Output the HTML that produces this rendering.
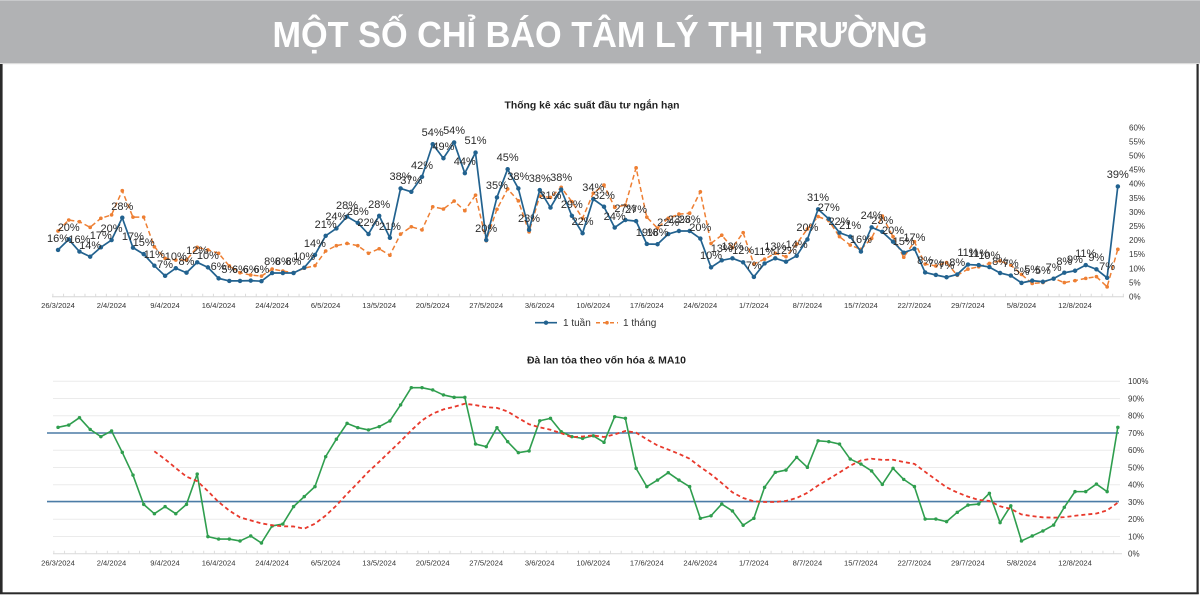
<!DOCTYPE html>
<html><head><meta charset="utf-8">
<style>
html,body{margin:0;padding:0;background:#fff;}
#wrap{position:relative;width:1200px;height:595px;overflow:hidden;background:#fff;font-family:"Liberation Sans",sans-serif;}
svg{position:absolute;left:0;top:0;}
.l{position:absolute;width:40px;text-align:center;font:11px/12px "Liberation Sans",sans-serif;color:#2b2b2b;left:calc(38px + var(--i)*10.705px);top:calc(279.6px - var(--v)*2.82px);white-space:nowrap;}
</style></head><body><div id="wrap">
<svg width="1200" height="595" viewBox="0 0 1200 595" xmlns="http://www.w3.org/2000/svg" font-family="Liberation Sans, sans-serif">
<!-- header -->
<rect x="0" y="0" width="1200" height="63" fill="#b1b2b4"/>
<rect x="0" y="0" width="1200" height="1" fill="#c8c9cb"/>
<rect x="0" y="63" width="1200" height="1.2" fill="#dcdcdc"/>
<text x="600" y="47" text-anchor="middle" font-size="36" font-weight="bold" fill="#ffffff" textLength="655" lengthAdjust="spacingAndGlyphs">MỘT SỐ CHỈ BÁO TÂM LÝ THỊ TRƯỜNG</text>
<!-- frame (left, right, bottom only) -->
<rect x="0" y="64" width="2.6" height="530" fill="#2a2a2a"/>
<rect x="1196.5" y="64" width="2.2" height="530" fill="#2a2a2a"/>
<rect x="0" y="592.3" width="1198.7" height="2" fill="#2a2a2a"/>

<!-- ===== TOP CHART ===== -->
<text x="592" y="108.5" text-anchor="middle" font-size="10.5" font-weight="bold" fill="#222" textLength="175" lengthAdjust="spacingAndGlyphs">Thống kê xác suất đầu tư ngắn hạn</text>
<line x1="52" y1="296.7" x2="1124" y2="296.7" stroke="#d6d6d6" stroke-width="1"/>
<line x1="52" y1="295.2" x2="1124" y2="295.2" stroke="#dcdcdc" stroke-width="3" stroke-dasharray="1 9.705" stroke-dashoffset="-0.35"/>
<g font-size="8" fill="#333">
<text x="1129" y="130.3">60%</text><text x="1129" y="144.4">55%</text><text x="1129" y="158.5">50%</text><text x="1129" y="172.6">45%</text><text x="1129" y="186.7">40%</text><text x="1129" y="200.8">35%</text><text x="1129" y="214.9">30%</text><text x="1129" y="229">25%</text><text x="1129" y="243.1">20%</text><text x="1129" y="257.2">15%</text><text x="1129" y="271.3">10%</text><text x="1129" y="285.4">5%</text><text x="1129" y="299.5">0%</text>
</g>
<g font-size="7.6" fill="#333" text-anchor="middle">
<text x="58" y="307.8">26/3/2024</text><text x="111.5" y="307.8">2/4/2024</text><text x="165" y="307.8">9/4/2024</text><text x="218.6" y="307.8">16/4/2024</text><text x="272.1" y="307.8">24/4/2024</text><text x="325.6" y="307.8">6/5/2024</text><text x="379.2" y="307.8">13/5/2024</text><text x="432.7" y="307.8">20/5/2024</text><text x="486.2" y="307.8">27/5/2024</text><text x="539.7" y="307.8">3/6/2024</text><text x="593.3" y="307.8">10/6/2024</text><text x="646.8" y="307.8">17/6/2024</text><text x="700.3" y="307.8">24/6/2024</text><text x="753.8" y="307.8">1/7/2024</text><text x="807.4" y="307.8">8/7/2024</text><text x="860.9" y="307.8">15/7/2024</text><text x="914.4" y="307.8">22/7/2024</text><text x="967.9" y="307.8">29/7/2024</text><text x="1021.5" y="307.8">5/8/2024</text><text x="1075" y="307.8">12/8/2024</text>
</g>
<g transform="translate(58,296.7) scale(10.705,-2.82)" fill="none">
<polyline vector-effect="non-scaling-stroke" stroke="#ee7f33" stroke-width="1.5" stroke-dasharray="5 3" points="0,23.3 1,27.2 2,26.6 3,24.6 4,27.8 5,29 6,37.6 7,28.2 8,28.2 9,17.7 10,13.6 11,13 12,13 13,17.5 14,16.6 15,15.4 16,10.9 17,8.5 18,7.7 19,7.3 20,9.8 21,9.1 22,8.5 23,10.1 24,11 25,16.2 26,18.1 27,18.9 28,18.1 29,15.4 30,17 31,14.7 32,22.2 33,24.8 34,23.7 35,31.9 36,31.1 37,33.9 38,30.5 39,36 40,19.9 41,31 42,38.2 43,34 44,23 45,35.7 46,35.2 47,38.8 48,33.7 49,27.8 50,36.7 51,39.6 52,31.7 53,32.5 54,45.7 55,28.2 56,24.3 57,27.8 58,29.3 59,29.6 60,37.2 61,18.9 62,21.8 63,17.4 64,22.7 65,11.6 66,13.3 67,15.4 68,14.2 69,18.7 70,24 71,28.4 72,27 73,21.3 74,18.3 75,16.8 76,20.7 77,28.6 78,21.3 79,14 80,19.5 81,11.6 82,10.9 83,12.1 84,7.6 85,9.8 86,10.6 87,11.8 88,12.7 89,11.2 90,7.9 91,4.7 92,5 93,6.5 94,5 95,5.7 96,6.5 97,7.1 98,3.5 99,16.8"/>
<path vector-effect="non-scaling-stroke" stroke="#ee7f33" stroke-width="3.6" stroke-linecap="round" d="M0 23.3h0.01M1 27.2h0.01M2 26.6h0.01M3 24.6h0.01M4 27.8h0.01M5 29h0.01M6 37.6h0.01M7 28.2h0.01M8 28.2h0.01M9 17.7h0.01M10 13.6h0.01M11 13h0.01M12 13h0.01M13 17.5h0.01M14 16.6h0.01M15 15.4h0.01M16 10.9h0.01M17 8.5h0.01M18 7.7h0.01M19 7.3h0.01M20 9.8h0.01M21 9.1h0.01M22 8.5h0.01M23 10.1h0.01M24 11h0.01M25 16.2h0.01M26 18.1h0.01M27 18.9h0.01M28 18.1h0.01M29 15.4h0.01M30 17h0.01M31 14.7h0.01M32 22.2h0.01M33 24.8h0.01M34 23.7h0.01M35 31.9h0.01M36 31.1h0.01M37 33.9h0.01M38 30.5h0.01M39 36h0.01M40 19.9h0.01M41 31h0.01M42 38.2h0.01M43 34h0.01M44 23h0.01M45 35.7h0.01M46 35.2h0.01M47 38.8h0.01M48 33.7h0.01M49 27.8h0.01M50 36.7h0.01M51 39.6h0.01M52 31.7h0.01M53 32.5h0.01M54 45.7h0.01M55 28.2h0.01M56 24.3h0.01M57 27.8h0.01M58 29.3h0.01M59 29.6h0.01M60 37.2h0.01M61 18.9h0.01M62 21.8h0.01M63 17.4h0.01M64 22.7h0.01M65 11.6h0.01M66 13.3h0.01M67 15.4h0.01M68 14.2h0.01M69 18.7h0.01M70 24h0.01M71 28.4h0.01M72 27h0.01M73 21.3h0.01M74 18.3h0.01M75 16.8h0.01M76 20.7h0.01M77 28.6h0.01M78 21.3h0.01M79 14h0.01M80 19.5h0.01M81 11.6h0.01M82 10.9h0.01M83 12.1h0.01M84 7.6h0.01M85 9.8h0.01M86 10.6h0.01M87 11.8h0.01M88 12.7h0.01M89 11.2h0.01M90 7.9h0.01M91 4.7h0.01M92 5h0.01M93 6.5h0.01M94 5h0.01M95 5.7h0.01M96 6.5h0.01M97 7.1h0.01M98 3.5h0.01M99 16.8h0.01"/>
<polyline vector-effect="non-scaling-stroke" stroke="#22628f" stroke-width="1.7" stroke-linejoin="round" points="0,16.6 1,20.3 2,16 3,14.2 4,17.5 5,20.1 6,28 7,17.4 8,15.1 9,11 10,7.4 11,10.1 12,8.5 13,12.2 14,10.4 15,6.5 16,5.6 17,5.6 18,5.7 19,5.5 20,8.4 21,8.4 22,8.4 23,10.3 24,14.8 25,21.6 26,24.2 27,28.4 28,26.2 29,22.2 30,28.7 31,20.9 32,38.4 33,37.2 34,42.5 35,54.1 36,49.1 37,54.7 38,43.8 39,51.1 40,20.1 41,35.2 42,45.2 43,38.4 44,23.7 45,37.8 46,31.6 47,38 48,28.7 49,22.5 50,34.6 51,31.9 52,24.5 53,27.2 54,26.8 55,18.7 56,18.6 57,22.2 58,23.3 59,23.3 60,20.6 61,10.4 62,12.9 63,13.6 64,12.2 65,7 66,11.8 67,13.6 68,12.4 69,14.5 70,20.3 71,31 72,27.6 73,22.7 74,21.3 75,16 76,24.6 77,23 78,19.5 79,15.6 80,17 81,8.6 82,7.7 83,6.9 84,7.9 85,11.4 86,11.2 87,10.5 88,8.4 89,7.5 90,4.9 91,5.7 92,5.3 93,6.4 94,8.5 95,9.2 96,11.2 97,9.7 98,6.7 99,39.1"/>
<path vector-effect="non-scaling-stroke" stroke="#22628f" stroke-width="4.4" stroke-linecap="round" d="M0 16.6h0.01M1 20.3h0.01M2 16h0.01M3 14.2h0.01M4 17.5h0.01M5 20.1h0.01M6 28h0.01M7 17.4h0.01M8 15.1h0.01M9 11h0.01M10 7.4h0.01M11 10.1h0.01M12 8.5h0.01M13 12.2h0.01M14 10.4h0.01M15 6.5h0.01M16 5.6h0.01M17 5.6h0.01M18 5.7h0.01M19 5.5h0.01M20 8.4h0.01M21 8.4h0.01M22 8.4h0.01M23 10.3h0.01M24 14.8h0.01M25 21.6h0.01M26 24.2h0.01M27 28.4h0.01M28 26.2h0.01M29 22.2h0.01M30 28.7h0.01M31 20.9h0.01M32 38.4h0.01M33 37.2h0.01M34 42.5h0.01M35 54.1h0.01M36 49.1h0.01M37 54.7h0.01M38 43.8h0.01M39 51.1h0.01M40 20.1h0.01M41 35.2h0.01M42 45.2h0.01M43 38.4h0.01M44 23.7h0.01M45 37.8h0.01M46 31.6h0.01M47 38h0.01M48 28.7h0.01M49 22.5h0.01M50 34.6h0.01M51 31.9h0.01M52 24.5h0.01M53 27.2h0.01M54 26.8h0.01M55 18.7h0.01M56 18.6h0.01M57 22.2h0.01M58 23.3h0.01M59 23.3h0.01M60 20.6h0.01M61 10.4h0.01M62 12.9h0.01M63 13.6h0.01M64 12.2h0.01M65 7h0.01M66 11.8h0.01M67 13.6h0.01M68 12.4h0.01M69 14.5h0.01M70 20.3h0.01M71 31h0.01M72 27.6h0.01M73 22.7h0.01M74 21.3h0.01M75 16h0.01M76 24.6h0.01M77 23h0.01M78 19.5h0.01M79 15.6h0.01M80 17h0.01M81 8.6h0.01M82 7.7h0.01M83 6.9h0.01M84 7.9h0.01M85 11.4h0.01M86 11.2h0.01M87 10.5h0.01M88 8.4h0.01M89 7.5h0.01M90 4.9h0.01M91 5.7h0.01M92 5.3h0.01M93 6.4h0.01M94 8.5h0.01M95 9.2h0.01M96 11.2h0.01M97 9.7h0.01M98 6.7h0.01M99 39.1h0.01"/>
</g>
<!-- legend -->
<line x1="535" y1="322.7" x2="557" y2="322.7" stroke="#22628f" stroke-width="1.7"/>
<circle cx="546" cy="322.7" r="2.2" fill="#22628f"/>
<text x="563" y="326" font-size="10" fill="#333">1 tuần</text>
<line x1="596" y1="322.7" x2="618" y2="322.7" stroke="#ee7f33" stroke-width="1.5" stroke-dasharray="4 3"/>
<circle cx="607" cy="322.7" r="1.8" fill="#ee7f33"/>
<text x="623" y="326" font-size="10" fill="#333">1 tháng</text>

<!-- ===== BOTTOM CHART ===== -->
<text x="606.5" y="363.5" text-anchor="middle" font-size="10.5" font-weight="bold" fill="#222" textLength="159" lengthAdjust="spacingAndGlyphs">Đà lan tỏa theo vốn hóa &amp; MA10</text>
<g stroke="#ebebeb" stroke-width="1">
<line x1="53" y1="381.3" x2="1120" y2="381.3"/><line x1="53" y1="398.5" x2="1120" y2="398.5"/><line x1="53" y1="415.8" x2="1120" y2="415.8"/><line x1="53" y1="450.3" x2="1120" y2="450.3"/><line x1="53" y1="467.5" x2="1120" y2="467.5"/><line x1="53" y1="484.7" x2="1120" y2="484.7"/><line x1="53" y1="519.2" x2="1120" y2="519.2"/><line x1="53" y1="536.5" x2="1120" y2="536.5"/>
</g>
<line x1="53" y1="553.7" x2="1122" y2="553.7" stroke="#d9d9d9" stroke-width="1"/>
<line x1="53" y1="552.2" x2="1122" y2="552.2" stroke="#dedede" stroke-width="3" stroke-dasharray="1 9.705" stroke-dashoffset="-0.35"/>
<line x1="47" y1="433" x2="1119" y2="433" stroke="#4b7ca6" stroke-width="1.6"/>
<line x1="47" y1="501.6" x2="1119" y2="501.6" stroke="#4b7ca6" stroke-width="1.6"/>
<g font-size="8" fill="#333">
<text x="1128" y="384.1">100%</text><text x="1128" y="401.3">90%</text><text x="1128" y="418.6">80%</text><text x="1128" y="435.8">70%</text><text x="1128" y="453.1">60%</text><text x="1128" y="470.3">50%</text><text x="1128" y="487.5">40%</text><text x="1128" y="504.8">30%</text><text x="1128" y="522">20%</text><text x="1128" y="539.3">10%</text><text x="1128" y="556.5">0%</text>
</g>
<g font-size="7.6" fill="#333" text-anchor="middle">
<text x="58" y="565.5">26/3/2024</text><text x="111.5" y="565.5">2/4/2024</text><text x="165" y="565.5">9/4/2024</text><text x="218.6" y="565.5">16/4/2024</text><text x="272.1" y="565.5">24/4/2024</text><text x="325.6" y="565.5">6/5/2024</text><text x="379.2" y="565.5">13/5/2024</text><text x="432.7" y="565.5">20/5/2024</text><text x="486.2" y="565.5">27/5/2024</text><text x="539.7" y="565.5">3/6/2024</text><text x="593.3" y="565.5">10/6/2024</text><text x="646.8" y="565.5">17/6/2024</text><text x="700.3" y="565.5">24/6/2024</text><text x="753.8" y="565.5">1/7/2024</text><text x="807.4" y="565.5">8/7/2024</text><text x="860.9" y="565.5">15/7/2024</text><text x="914.4" y="565.5">22/7/2024</text><text x="967.9" y="565.5">29/7/2024</text><text x="1021.5" y="565.5">5/8/2024</text><text x="1075" y="565.5">12/8/2024</text>
</g>
<g transform="translate(58,553.7) scale(10.705,-1.724)" fill="none">
<polyline vector-effect="non-scaling-stroke" stroke="#2f9e4e" stroke-width="1.6" stroke-linejoin="round" points="0,73.3 1,74.6 2,78.9 3,72.1 4,67.9 5,71.2 6,58.8 7,45.6 8,28.6 9,23.2 10,27.3 11,23.2 12,28.6 13,46.2 14,9.9 15,8.5 16,8.5 17,7.4 18,10.3 19,6.2 20,16.1 21,17.2 22,27.3 23,33.1 24,38.9 25,56.3 26,66.4 27,75.6 28,73.1 29,71.8 30,73.7 31,77 32,86.3 33,96.3 34,96.3 35,95 36,92.1 37,90.7 38,90.7 39,63.6 40,62.1 41,73.1 42,65 43,58.6 44,59.6 45,77.1 46,78.5 47,70.8 48,67.9 49,66.9 50,68.4 51,64.6 52,79.5 53,78.5 54,49.5 55,38.9 56,42.7 57,47 58,42.7 59,38.9 60,20.5 61,22 62,28.8 63,24.8 64,16.5 65,20.5 66,38.5 67,47.2 68,48.5 69,55.9 70,50.1 71,65.5 72,65 73,63.6 74,54.9 75,52 76,48 77,40.2 78,49.5 79,43.1 80,38.9 81,20.1 82,20.1 83,18.6 84,24 85,28.2 86,28.8 87,35 88,18 89,27.8 90,7.4 91,10.3 92,13.2 93,16.6 94,26.9 95,36 96,36 97,40.4 98,36 99,73.3"/>
<path vector-effect="non-scaling-stroke" stroke="#2f9e4e" stroke-width="3.4" stroke-linecap="round" d="M0 73.3h0.01M1 74.6h0.01M2 78.9h0.01M3 72.1h0.01M4 67.9h0.01M5 71.2h0.01M6 58.8h0.01M7 45.6h0.01M8 28.6h0.01M9 23.2h0.01M10 27.3h0.01M11 23.2h0.01M12 28.6h0.01M13 46.2h0.01M14 9.9h0.01M15 8.5h0.01M16 8.5h0.01M17 7.4h0.01M18 10.3h0.01M19 6.2h0.01M20 16.1h0.01M21 17.2h0.01M22 27.3h0.01M23 33.1h0.01M24 38.9h0.01M25 56.3h0.01M26 66.4h0.01M27 75.6h0.01M28 73.1h0.01M29 71.8h0.01M30 73.7h0.01M31 77h0.01M32 86.3h0.01M33 96.3h0.01M34 96.3h0.01M35 95h0.01M36 92.1h0.01M37 90.7h0.01M38 90.7h0.01M39 63.6h0.01M40 62.1h0.01M41 73.1h0.01M42 65h0.01M43 58.6h0.01M44 59.6h0.01M45 77.1h0.01M46 78.5h0.01M47 70.8h0.01M48 67.9h0.01M49 66.9h0.01M50 68.4h0.01M51 64.6h0.01M52 79.5h0.01M53 78.5h0.01M54 49.5h0.01M55 38.9h0.01M56 42.7h0.01M57 47h0.01M58 42.7h0.01M59 38.9h0.01M60 20.5h0.01M61 22h0.01M62 28.8h0.01M63 24.8h0.01M64 16.5h0.01M65 20.5h0.01M66 38.5h0.01M67 47.2h0.01M68 48.5h0.01M69 55.9h0.01M70 50.1h0.01M71 65.5h0.01M72 65h0.01M73 63.6h0.01M74 54.9h0.01M75 52h0.01M76 48h0.01M77 40.2h0.01M78 49.5h0.01M79 43.1h0.01M80 38.9h0.01M81 20.1h0.01M82 20.1h0.01M83 18.6h0.01M84 24h0.01M85 28.2h0.01M86 28.8h0.01M87 35h0.01M88 18h0.01M89 27.8h0.01M90 7.4h0.01M91 10.3h0.01M92 13.2h0.01M93 16.6h0.01M94 26.9h0.01M95 36h0.01M96 36h0.01M97 40.4h0.01M98 36h0.01M99 73.3h0.01"/>
<polyline vector-effect="non-scaling-stroke" stroke="#e8392c" stroke-width="1.8" stroke-dasharray="4 3" stroke-linejoin="round" points="9,59.4 10,54.8 11,49.7 12,44.7 13,42.1 14,36.3 15,30 16,25 17,21.1 18,19.3 19,17.6 20,16.5 21,15.9 22,15.8 23,14.5 24,17.4 25,22.1 26,27.9 27,34.7 28,41 29,47.6 30,53.3 31,59.3 32,65.2 33,71.5 34,77.3 35,81.2 36,83.7 37,85.2 38,87 39,86.2 40,85 41,84.6 42,82.5 43,78.7 44,75.1 45,73.3 46,71.9 47,69.9 48,67.6 49,68 50,68.6 51,67.7 52,69.2 53,71.2 54,70.2 55,66.4 56,62.8 57,60.4 58,57.9 59,55.1 60,50.3 61,46 62,41 63,35.6 64,32.3 65,30.4 66,30 67,30 68,30.6 69,32.3 70,35.3 71,39.6 72,43.3 73,47.1 74,51 75,54.1 76,55.1 77,54.4 78,54.5 79,53.2 80,52.1 81,47.5 82,43 83,38.5 84,35.5 85,33.1 86,31.2 87,30.6 88,27.5 89,26 90,22.8 91,21.8 92,21.1 93,20.9 94,21.2 95,22 96,22.7 97,23.3 98,25.1 99,29.6"/>
</g>
</svg>
<!-- data labels (1 tuần) -->
<span class="l" style="--i:0;--v:16.6">16%</span><span class="l" style="--i:1;--v:20.3">20%</span><span class="l" style="--i:2;--v:16">16%</span><span class="l" style="--i:3;--v:14.2">14%</span><span class="l" style="--i:4;--v:17.5">17%</span><span class="l" style="--i:5;--v:20.1">20%</span><span class="l" style="--i:6;--v:28">28%</span><span class="l" style="--i:7;--v:17.4">17%</span><span class="l" style="--i:8;--v:15.1">15%</span><span class="l" style="--i:9;--v:11">11%</span><span class="l" style="--i:10;--v:7.4">7%</span><span class="l" style="--i:11;--v:10.1">10%</span><span class="l" style="--i:12;--v:8.5">8%</span><span class="l" style="--i:13;--v:12.2">12%</span><span class="l" style="--i:14;--v:10.4">10%</span><span class="l" style="--i:15;--v:6.5">6%</span><span class="l" style="--i:16;--v:5.6">5%</span><span class="l" style="--i:17;--v:5.6">6%</span><span class="l" style="--i:18;--v:5.7">6%</span><span class="l" style="--i:19;--v:5.5">6%</span><span class="l" style="--i:20;--v:8.4">8%</span><span class="l" style="--i:21;--v:8.4">8%</span><span class="l" style="--i:22;--v:8.4">8%</span><span class="l" style="--i:23;--v:10.3">10%</span><span class="l" style="--i:24;--v:14.8">14%</span><span class="l" style="--i:25;--v:21.6">21%</span><span class="l" style="--i:26;--v:24.2">24%</span><span class="l" style="--i:27;--v:28.4">28%</span><span class="l" style="--i:28;--v:26.2">26%</span><span class="l" style="--i:29;--v:22.2">22%</span><span class="l" style="--i:30;--v:28.7">28%</span><span class="l" style="--i:31;--v:20.9">21%</span><span class="l" style="--i:32;--v:38.4">38%</span><span class="l" style="--i:33;--v:37.2">37%</span><span class="l" style="--i:34;--v:42.5">42%</span><span class="l" style="--i:35;--v:54.1">54%</span><span class="l" style="--i:36;--v:49.1">49%</span><span class="l" style="--i:37;--v:54.7">54%</span><span class="l" style="--i:38;--v:43.8">44%</span><span class="l" style="--i:39;--v:51.1">51%</span><span class="l" style="--i:40;--v:20.1">20%</span><span class="l" style="--i:41;--v:35.2">35%</span><span class="l" style="--i:42;--v:45.2">45%</span><span class="l" style="--i:43;--v:38.4">38%</span><span class="l" style="--i:44;--v:23.7">23%</span><span class="l" style="--i:45;--v:37.8">38%</span><span class="l" style="--i:46;--v:31.6">31%</span><span class="l" style="--i:47;--v:38">38%</span><span class="l" style="--i:48;--v:28.7">29%</span><span class="l" style="--i:49;--v:22.5">22%</span><span class="l" style="--i:50;--v:34.6">34%</span><span class="l" style="--i:51;--v:31.9">32%</span><span class="l" style="--i:52;--v:24.5">24%</span><span class="l" style="--i:53;--v:27.2">27%</span><span class="l" style="--i:54;--v:26.8">27%</span><span class="l" style="--i:55;--v:18.7">19%</span><span class="l" style="--i:56;--v:18.6">18%</span><span class="l" style="--i:57;--v:22.2">22%</span><span class="l" style="--i:58;--v:23.3">23%</span><span class="l" style="--i:59;--v:23.3">23%</span><span class="l" style="--i:60;--v:20.6">20%</span><span class="l" style="--i:61;--v:10.4">10%</span><span class="l" style="--i:62;--v:12.9">13%</span><span class="l" style="--i:63;--v:13.6">13%</span><span class="l" style="--i:64;--v:12.2">12%</span><span class="l" style="--i:65;--v:7">7%</span><span class="l" style="--i:66;--v:11.8">11%</span><span class="l" style="--i:67;--v:13.6">13%</span><span class="l" style="--i:68;--v:12.4">12%</span><span class="l" style="--i:69;--v:14.5">14%</span><span class="l" style="--i:70;--v:20.3">20%</span><span class="l" style="--i:71;--v:31">31%</span><span class="l" style="--i:72;--v:27.6">27%</span><span class="l" style="--i:73;--v:22.7">22%</span><span class="l" style="--i:74;--v:21.3">21%</span><span class="l" style="--i:75;--v:16">16%</span><span class="l" style="--i:76;--v:24.6">24%</span><span class="l" style="--i:77;--v:23">23%</span><span class="l" style="--i:78;--v:19.5">20%</span><span class="l" style="--i:79;--v:15.6">15%</span><span class="l" style="--i:80;--v:17">17%</span><span class="l" style="--i:81;--v:8.6">8%</span><span class="l" style="--i:82;--v:7.7">7%</span><span class="l" style="--i:83;--v:6.9">7%</span><span class="l" style="--i:84;--v:7.9">8%</span><span class="l" style="--i:85;--v:11.4">11%</span><span class="l" style="--i:86;--v:11.2">11%</span><span class="l" style="--i:87;--v:10.5">10%</span><span class="l" style="--i:88;--v:8.4">8%</span><span class="l" style="--i:89;--v:7.5">7%</span><span class="l" style="--i:90;--v:4.9">5%</span><span class="l" style="--i:91;--v:5.7">5%</span><span class="l" style="--i:92;--v:5.3">5%</span><span class="l" style="--i:93;--v:6.4">7%</span><span class="l" style="--i:94;--v:8.5">8%</span><span class="l" style="--i:95;--v:9.2">9%</span><span class="l" style="--i:96;--v:11.2">11%</span><span class="l" style="--i:97;--v:9.7">9%</span><span class="l" style="--i:98;--v:6.7">7%</span><span class="l" style="--i:99;--v:39.1">39%</span>
</div></body></html>
